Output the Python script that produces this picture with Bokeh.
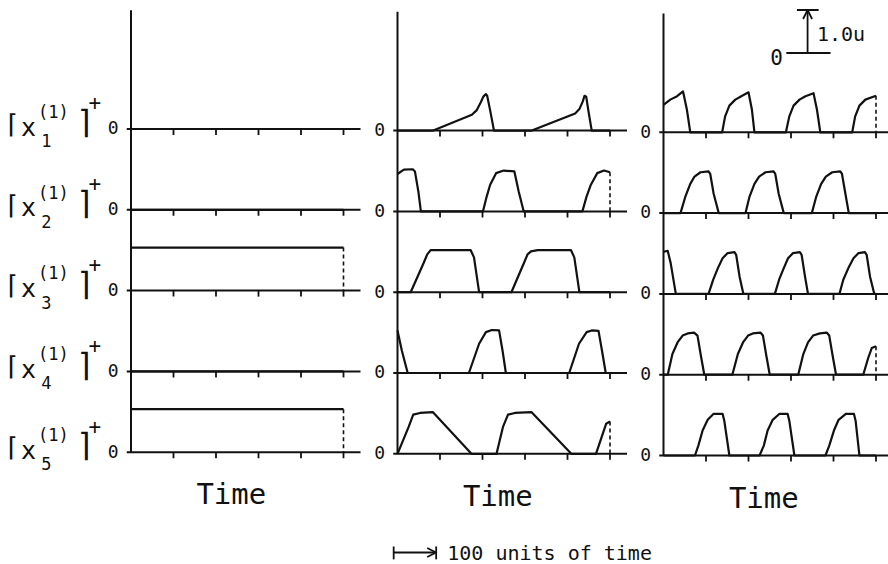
from bokeh.plotting import figure
from bokeh.models import Range1d, Arrow, OpenHead
from bokeh.core.properties import value
from bokeh.embed import file_html
from bokeh.resources import INLINE

# ---------------- data ----------------
variable_index = ["1", "2", "3", "4", "5"]
tick_times = [100, 200, 300, 400, 500]
time_label = "Time"
scale_value = 1.0
scale_text = "1.0u"
bar_units = 100
bar_text = "100 units of time"

# panel 1
p1_x1_t = [0, 500]; p1_x1_v = [0, 0]
p1_x2_t = [0, 500]; p1_x2_v = [0, 0]
p1_x3_t = [0, 500]; p1_x3_v = [1.0, 1.0]
p1_x4_t = [0, 500]; p1_x4_v = [0, 0]
p1_x5_t = [0, 500]; p1_x5_v = [1.0, 1.0]

# panel 2
p2_x1_t = [0, 84, 175, 186, 196, 202, 208, 211, 218, 227, 316, 418, 428, 436, 440, 444, 449, 457, 500]
p2_x1_v = [0, 0, 0.37, 0.47, 0.66, 0.79, 0.85, 0.81, 0.47, 0, 0, 0.40, 0.50, 0.68, 0.81, 0.79, 0.47, 0, 0]
p2_x2_t = [0, 15, 36, 41, 49, 55, 201, 210, 218, 232, 250, 275, 285, 297, 435, 445, 455, 470, 486, 500]
p2_x2_v = [0.87, 0.97, 0.98, 0.93, 0.47, 0, 0, 0.35, 0.62, 0.89, 0.95, 0.93, 0.47, 0, 0, 0.35, 0.62, 0.89, 0.95, 0.91]
p2_x3_t = [0, 31, 62, 70, 78, 172, 180, 192, 268, 298, 306, 314, 330, 408, 416, 428, 500]
p2_x3_v = [0, 0, 0.69, 0.88, 0.98, 0.98, 0.81, 0, 0, 0.69, 0.88, 0.95, 0.98, 0.98, 0.81, 0, 0]
p2_x4_t = [0, 10, 24, 168, 192, 208, 222, 239, 247, 255, 404, 427, 445, 457, 473, 481, 490, 500]
p2_x4_v = [0.99, 0.53, 0, 0, 0.68, 0.95, 1.0, 0.99, 0.53, 0, 0, 0.68, 0.95, 0.99, 0.98, 0.53, 0, 0]
p2_x5_t = [0, 26, 37, 53, 83, 174, 233, 248, 260, 276, 315, 409, 467, 491, 500]
p2_x5_v = [0, 0.62, 0.91, 0.95, 0.97, 0, 0, 0.62, 0.91, 0.95, 0.97, 0, 0, 0.70, 0.75]

# panel 3
p3_x1_t = [0, 16, 32, 46, 55, 63, 138, 145, 155, 169, 183, 200, 208, 214, 288, 296, 306, 320, 334, 353, 361, 369, 444, 451, 461, 475, 500]
p3_x1_v = [0.64, 0.76, 0.84, 0.95, 0.53, 0, 0, 0.37, 0.62, 0.76, 0.84, 0.93, 0.53, 0, 0, 0.37, 0.62, 0.76, 0.84, 0.91, 0.53, 0, 0, 0.37, 0.62, 0.76, 0.85]
p3_x2_t = [0, 40, 51, 63, 73, 87, 106, 110, 118, 130, 193, 202, 214, 225, 240, 259, 263, 271, 283, 349, 359, 371, 382, 397, 416, 420, 428, 436, 500]
p3_x2_v = [0, 0, 0.37, 0.68, 0.85, 0.95, 0.97, 0.91, 0.45, 0, 0, 0.37, 0.68, 0.85, 0.95, 0.97, 0.91, 0.45, 0, 0, 0.37, 0.68, 0.85, 0.95, 0.97, 0.91, 0.45, 0, 0]
p3_x3_t = [0, 10, 17, 29, 106, 117, 128, 139, 151, 167, 171, 179, 188, 262, 272, 283, 293, 305, 321, 325, 333, 340, 414, 423, 435, 447, 459, 474, 478, 486, 496, 500]
p3_x3_v = [0.98, 1.0, 0.71, 0, 0, 0.33, 0.60, 0.83, 0.95, 0.97, 0.91, 0.40, 0, 0, 0.33, 0.60, 0.83, 0.95, 0.97, 0.91, 0.40, 0, 0, 0.33, 0.60, 0.83, 0.95, 0.97, 0.91, 0.40, 0, 0]
p3_x4_t = [0, 10, 21, 33, 45, 57, 72, 80, 88, 96, 162, 175, 187, 199, 210, 228, 234, 242, 250, 317, 329, 340, 352, 368, 384, 390, 398, 406, 470, 482, 490, 500]
p3_x4_v = [0, 0, 0.48, 0.75, 0.91, 0.96, 0.98, 0.91, 0.44, 0, 0, 0.48, 0.75, 0.91, 0.96, 0.98, 0.91, 0.44, 0, 0, 0.48, 0.75, 0.91, 0.96, 0.98, 0.91, 0.44, 0, 0, 0.40, 0.62, 0.66]
p3_x5_t = [0, 74, 82, 92, 104, 118, 139, 143, 155, 226, 236, 245, 257, 273, 292, 296, 308, 381, 390, 401, 412, 429, 448, 452, 461, 500]
p3_x5_v = [0, 0, 0.23, 0.58, 0.83, 0.97, 0.97, 0.81, 0, 0, 0.23, 0.58, 0.83, 0.97, 0.97, 0.81, 0, 0, 0.23, 0.58, 0.83, 0.97, 0.97, 0.81, 0, 0]

panel_series = [
    [(p1_x1_t, p1_x1_v), (p1_x2_t, p1_x2_v), (p1_x3_t, p1_x3_v), (p1_x4_t, p1_x4_v), (p1_x5_t, p1_x5_v)],
    [(p2_x1_t, p2_x1_v), (p2_x2_t, p2_x2_v), (p2_x3_t, p2_x3_v), (p2_x4_t, p2_x4_v), (p2_x5_t, p2_x5_v)],
    [(p3_x1_t, p3_x1_v), (p3_x2_t, p3_x2_v), (p3_x3_t, p3_x3_v), (p3_x4_t, p3_x4_v), (p3_x5_t, p3_x5_v)],
]

# ---------------- layout ----------------
W, H = 888, 564
PX_PER_T = 0.425
PX_PER_U = 43.0
axis_px = [130.5, 397.0, 663.0]
base_px = [451.7, 453.3, 455.0]
ROW_GAP = 80.8 / PX_PER_U
AXIS_TOP = 10.28
LINE_END = 540
FONT = value("DejaVu Sans Mono")
INK = "#111111"
BASE_FIX = 0.28  # em, raise to compensate the renderer's text baseline


def fix(size_px):
    return BASE_FIX * size_px / PX_PER_U


names = ["default", "p2", "p3"]
xr = [Range1d(-a / PX_PER_T, (W - a) / PX_PER_T) for a in axis_px]
yr = [Range1d(-(H - b) / PX_PER_U, b / PX_PER_U) for b in base_px]

p = figure(width=W, height=H, output_backend="svg", toolbar_location=None,
           x_range=xr[0], y_range=yr[0], x_axis_location=None, y_axis_location=None,
           min_border=0, min_border_left=0, min_border_right=0, min_border_top=0,
           min_border_bottom=0, outline_line_color=None, background_fill_color="white",
           border_fill_color="white")
p.grid.visible = False
p.extra_x_ranges = {"p2": xr[1], "p3": xr[2]}
p.extra_y_ranges = {"p2": yr[1], "p3": yr[2]}

nrows = len(variable_index)
row_base = [(nrows - 1 - k) * ROW_GAP for k in range(nrows)]


def put_text(xs, ys, txt, size, align="left", **kw):
    p.text(x=xs, y=[y + fix(size) for y in ys], text=txt, text_align=align,
           text_baseline="alphabetic", text_font=FONT, text_font_size=f"{size}px",
           text_color=INK, **kw)


for j, rn in enumerate(names):
    kw = dict(x_range_name=rn, y_range_name=rn)
    # baselines
    p.segment(x0=[-10] * nrows, y0=row_base, x1=[LINE_END] * nrows, y1=row_base,
              line_color=INK, line_width=2, **kw)
    # tick marks
    tx, ty = [], []
    for yb in row_base:
        for t in tick_times:
            tx.append(t); ty.append(yb)
    p.segment(x0=tx, y0=ty, x1=tx, y1=[y - 0.14 for y in ty], line_color=INK, line_width=1.8, **kw)
    # vertical axis
    p.segment(x0=[0], y0=[0], x1=[0], y1=[AXIS_TOP], line_color=INK, line_width=2, **kw)
    # traces
    xs, ys, dx, dy0, dy1 = [], [], [], [], []
    for (t, v), yb in zip(panel_series[j], row_base):
        xs.append(t)
        ys.append([vv + yb for vv in v])
        if v[-1] > 0:
            dx.append(t[-1]); dy0.append(yb + v[-1]); dy1.append(yb)
    p.multi_line(xs=xs, ys=ys, line_color=INK, line_width=2.2, line_join="round", **kw)
    if dx:
        p.segment(x0=dx, y0=dy0, x1=dx, y1=dy1, line_color=INK, line_width=1.6,
                  line_dash="4 3", **kw)
    # zero labels
    put_text([-29] * nrows, [yb - 0.09 for yb in row_base], ["0"] * nrows, 18, "right", **kw)
    # Time label
    put_text([236], [-1.17], [time_label], 29, "center", **kw)

# row labels  [x_k^(1)]^+  (panel 1 coordinates)
put_text([-299] * nrows, [yb - 0.05 for yb in row_base], ["\u2308"] * nrows, 26)
put_text([-259] * nrows, [yb - 0.12 for yb in row_base], ["x"] * nrows, 25)
put_text([-211] * nrows, [yb - 0.38 for yb in row_base], variable_index, 17)
put_text([-219] * nrows, [yb + 0.29 for yb in row_base], ["(1)"] * nrows, 17)
put_text([-130] * nrows, [yb - 0.05 for yb in row_base], ["\u2309"] * nrows, 32)
put_text([-100] * nrows, [yb + 0.48 for yb in row_base], ["+"] * nrows, 21)

# scale bar (panel 3)
k3 = dict(x_range_name="p3", y_range_name="p3")
sb_y = 9.36
p.segment(x0=[289], y0=[sb_y], x1=[393], y1=[sb_y], line_color=INK, line_width=1.8, **k3)
p.segment(x0=[314], y0=[sb_y + scale_value], x1=[365], y1=[sb_y + scale_value],
          line_color=INK, line_width=1.8, **k3)
p.add_layout(Arrow(end=OpenHead(size=9, line_width=1.8, line_color=INK),
                   x_start=339, y_start=sb_y, x_end=339, y_end=sb_y + scale_value,
                   line_width=1.8, line_color=INK, **k3))
put_text([281], [sb_y - 0.22], ["0"], 21, "right", **k3)
put_text([361], [sb_y + 0.31], [scale_text], 20, "left", **k3)

# time bar (panel 2)
k2 = dict(x_range_name="p2", y_range_name="p2")
tb_x0 = -9
tb_y = -2.295
p.segment(x0=[tb_x0, tb_x0 + bar_units], y0=[tb_y + 0.14] * 2, x1=[tb_x0, tb_x0 + bar_units],
          y1=[tb_y - 0.16] * 2, line_color=INK, line_width=1.8, **k2)
p.add_layout(Arrow(end=OpenHead(size=9, line_width=1.8, line_color=INK),
                   x_start=tb_x0, y_start=tb_y, x_end=tb_x0 + bar_units, y_end=tb_y,
                   line_width=1.8, line_color=INK, **k2))
put_text([tb_x0 + bar_units + 26], [tb_y - 0.14], [bar_text], 20, "left", **k2)

open("out.html", "w").write(file_html(p, INLINE))
